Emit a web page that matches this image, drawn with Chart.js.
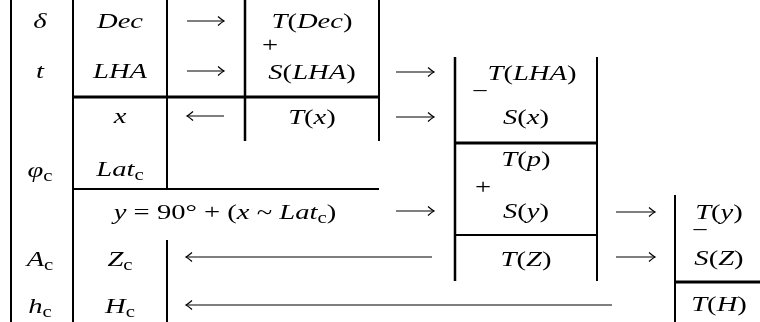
<!DOCTYPE html>
<html>
<head>
<meta charset="utf-8">
<script src="https://cdn.jsdelivr.net/npm/chart.js@4.4.1/dist/chart.umd.min.js"></script>
<style>
  html, body { margin: 0; padding: 0; background: #ffffff; }
  #wrap { width: 760px; height: 322px; position: relative; }
</style>
</head>
<body>
<div id="wrap"><canvas id="c"></canvas></div>
<script>
// ---------------- content (data) ----------------
const symbols     = ['δ', 't', 'φ_c', 'A_c', 'h_c'];
const tabulated   = ['Dec', 'LHA', 'x', 'Lat_c', 'Z_c', 'H_c'];
const firstLogs   = ['T(Dec)', 'S(LHA)', 'T(x)'];
const secondLogs  = ['T(LHA)', 'S(x)', 'T(p)', 'S(y)', 'T(Z)'];
const thirdLogs   = ['T(y)', 'S(Z)', 'T(H)'];
const formula     = ['y = 90° + (x ~ Lat_c)'];
const operators   = ['+', '−', '+', '−'];

// ---------------- layout (positions in scale units) ----------------
const symbolPos   = [[40, 28], [40, 78], [40, 177], [40, 266], [40, 313]];
const tabPos      = [[120, 28], [120, 78], [120, 123], [120, 176], [120, 266], [120, 313]];
const firstPos    = [[312, 28], [312, 79], [312, 124]];
const secondPos   = [[532, 80], [526, 124], [526, 166], [526, 218], [526, 266]];
const thirdPos    = [[719, 219], [719, 265], [719, 311]];
const formulaPos  = [[225, 219]];
const operatorPos = [[270, 52], [480, 98], [483, 194], [700, 237]];

// rules: [x1, y1, x2, y2, width]
const rules = [
  [11, 0, 11, 322, 2], [73, 0, 73, 322, 2], [167, 0, 167, 189, 2],
  [245, 0, 245, 141, 2.5], [379, 0, 379, 141, 2], [455, 57, 455, 281, 2.5],
  [597, 57, 597, 281, 2], [675, 195, 675, 322, 2], [167, 240, 167, 322, 2],
  [73, 97, 379, 97, 3], [455, 143, 597, 143, 3], [73, 189, 379, 189, 2],
  [455, 235, 597, 235, 2], [675, 282, 760, 282, 3]
];
// arrows: [xFrom, xTo, y]  (head at xTo)
const arrows = [
  [187, 224, 21], [187, 224, 71], [224, 187, 116],
  [396, 434, 72], [396, 434, 117], [396, 434, 211],
  [616, 655, 212], [616, 655, 257],
  [432, 186, 257], [612, 186, 305]
];

const FONT = '"Liberation Serif", serif';
const SIZE = 22;
const SX = 1.3;

function runs(str) {
  const out = [];
  for (let i = 0; i < str.length; i++) {
    const ch = str[i];
    if (ch === '_') { out.push({t: str[i + 1], k: 'sub'}); i++; continue; }
    const k = /[A-Za-zδφ]/.test(ch) ? 'it' : 'rm';
    if (out.length && out[out.length - 1].k === k) out[out.length - 1].t += ch;
    else out.push({t: ch, k});
  }
  return out;
}
function fontFor(k) {
  if (k === 'it') return 'italic ' + SIZE + 'px ' + FONT;
  if (k === 'sub') return Math.round(SIZE * 0.72) + 'px ' + FONT;
  return SIZE + 'px ' + FONT;
}
function drawMath(ctx, str, cx, by) {
  const rs = runs(str);
  let w = 0;
  rs.forEach(r => { ctx.font = fontFor(r.k); r.w = ctx.measureText(r.t).width; w += r.w; });
  ctx.save();
  ctx.translate(cx - w * SX / 2, by);
  ctx.scale(SX, 1);
  let x = 0;
  rs.forEach(r => {
    ctx.font = fontFor(r.k);
    ctx.fillText(r.t, x, r.k === 'sub' ? 4 : 0);
    x += r.w;
  });
  ctx.restore();
}

const ruleSets = rules.map(r => ({
  type: 'line',
  data: [{x: r[0], y: r[1]}, {x: r[2], y: r[3]}],
  borderColor: '#000', borderWidth: r[4], pointRadius: 0,
  showLine: true, fill: false, clip: false, borderCapStyle: 'butt'
}));
const arrowSets = arrows.map(a => ({
  type: 'line',
  data: [{x: a[0], y: a[2]}, {x: a[1], y: a[2]}],
  borderColor: '#000', borderWidth: 1.2, pointRadius: 0,
  showLine: true, fill: false, clip: false
}));

const textPlugin = {
  id: 'mathText',
  afterDatasetsDraw(chart) {
    const ctx = chart.ctx, xs = chart.scales.x, ys = chart.scales.y;
    ctx.fillStyle = '#000';
    ctx.strokeStyle = '#000';
    ctx.textBaseline = 'alphabetic';
    const put = (texts, pos) => texts.forEach((t, i) =>
      drawMath(ctx, t, xs.getPixelForValue(pos[i][0]), ys.getPixelForValue(pos[i][1])));
    put(symbols, symbolPos); put(tabulated, tabPos); put(firstLogs, firstPos);
    put(secondLogs, secondPos); put(thirdLogs, thirdPos); put(formula, formulaPos);
    put(operators, operatorPos);
    // arrow heads
    ctx.lineWidth = 1.2;
    arrows.forEach(a => {
      const x = xs.getPixelForValue(a[1]), y = ys.getPixelForValue(a[2]);
      const d = a[1] > a[0] ? -1 : 1;
      ctx.beginPath();
      ctx.moveTo(x + d * 6, y - 4.5);
      ctx.quadraticCurveTo(x + d * 2, y - 1, x, y);
      ctx.quadraticCurveTo(x + d * 2, y + 1, x + d * 6, y + 4.5);
      ctx.stroke();
    });
  }
};

new Chart(document.getElementById('c'), {
  type: 'scatter',
  data: { datasets: [...ruleSets, ...arrowSets] },
  options: {
    responsive: true, maintainAspectRatio: false, animation: false,
    layout: { padding: 0 },
    plugins: { legend: { display: false }, tooltip: { enabled: false } },
    events: [],
    scales: {
      x: { type: 'linear', min: 0, max: 760, display: false },
      y: { type: 'linear', min: 0, max: 322, reverse: true, display: false }
    }
  },
  plugins: [textPlugin]
});
</script>
</body>
</html>
